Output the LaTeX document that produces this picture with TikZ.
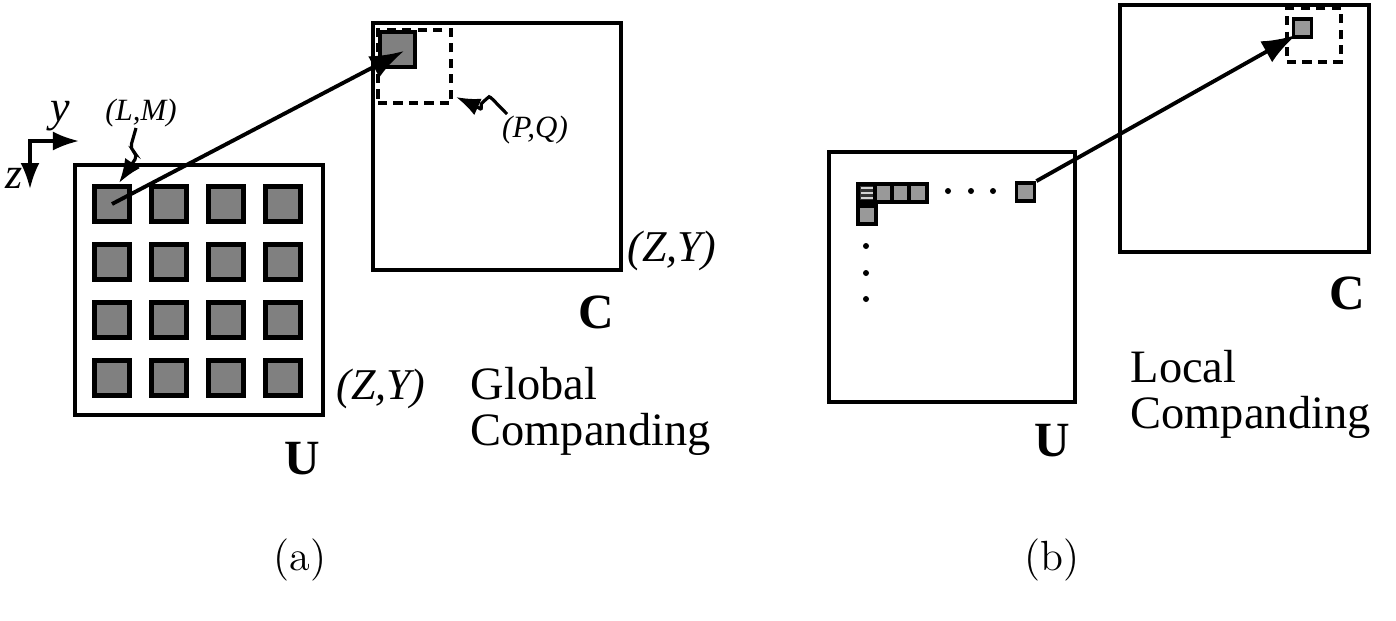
\documentclass[tikz,border=0pt]{standalone}
\usepackage{fontspec}
\newfontfamily\timesf{Liberation Serif}
\usetikzlibrary{arrows.meta}
\tikzset{
    frame/.style={rectangle, draw, line width=1pt, inner sep=0pt},
    cell/.style={rectangle, draw, line width=1.2pt, fill=black!50, minimum size=0.35cm, inner sep=0pt},
    tinycell/.style={rectangle, draw, line width=1.1pt, fill=black!40, minimum size=0.18cm, inner sep=0pt},
    window/.style={rectangle, draw, dash pattern=on 2.6pt off 1.8pt, line width=0.9pt, inner sep=0pt},
    link/.style={line width=1.1pt, -{Latex[length=3.4mm, width=2.4mm]}},
    squig/.style={line width=0.9pt, rounded corners=1.5pt, -{Latex[length=2.4mm, width=1.8mm]}},
    axis/.style={line width=0.9pt, {Latex[length=2.6mm, width=1.9mm]}-{Latex[length=2.6mm, width=1.9mm]}},
    dot/.style={circle, fill, inner sep=0pt, minimum size=0.06cm},
    stripe/.style={gray!35, line width=0.7pt},
    lbl/.style={font=\timesf\fontsize{13.2}{12.9}\selectfont, inner sep=0pt},
    ilbl/.style={font=\timesf\itshape\fontsize{12.5}{12.5}\selectfont, inner sep=0pt},
    slbl/.style={font=\timesf\itshape\fontsize{8.8}{8.8}\selectfont, inner sep=0pt},
    blbl/.style={font=\timesf\bfseries\fontsize{14}{14}\selectfont, inner sep=0pt},
    sublbl/.style={font=\fontsize{12}{12}\selectfont, inner sep=0pt},
}
\begin{document}
\begin{tikzpicture}[x=0.01cm, y=-0.01cm]
\useasboundingbox (0,0) rectangle (1396,620);

% ===== (a) global companding =====
% axes
\coordinate (ax-o) at (30,141);
\coordinate (ax-y) at (79,141);
\coordinate (ax-z) at (30,189);
\draw[axis] (ax-y) -- (ax-o) -- (ax-z);
\node[ilbl] (ylab) at (60,116) {y};
\node[ilbl] (zlab) at (14,178) {z};

% U with its blocks
\node[frame, minimum width=2.48cm, minimum height=2.50cm] (ua) at (199,290) {};
\foreach \r in {1,...,4}
  \foreach \c in {1,...,4}
    \node[cell] (ua-\r-\c) at ({112+57*(\c-1)}, {204+58*(\r-1)}) {};

% C with window
\node[frame, minimum width=2.48cm, minimum height=2.47cm] (ca) at (497,146.5) {};
\node[window, minimum size=0.73cm] (wa) at (414.5,66.5) {};
\node[cell] (ca-cell) at (397.5,49.5) {};
\coordinate (ca-tip) at (404,51);
\draw[link] (ua-1-1.center) -- (ca-tip);

% block and window labels
\node[slbl] (lm) at (141,113) {(L,M)};
\coordinate (lm-tail) at (136,128);
\coordinate (lm-head) at (119,183);
\draw[squig] (lm-tail) -- (130,149) -- (138,155) -- (lm-head);

\node[slbl] (pq) at (535,130) {(P,Q)};
\coordinate (pq-tail) at (507,114);
\coordinate (pq-head) at (456,97);
\draw[squig] (pq-tail) .. controls (497,104) and (490,96) .. (485,100)
  .. controls (481,104) and (482,110) .. (476,106) -- (pq-head);

\node[ilbl] (zy-ca) at (672,251) {(Z,Y)};
\node[ilbl] (zy-ua) at (381,389) {(Z,Y)};
\node[blbl] (c-a) at (596,312) {C};
\node[blbl] (u-a) at (302,459) {U};
\node[lbl, anchor=base west, align=left] (glob) at (470,445) {Global\\Companding};
\node[sublbl] (sub-a) at (300,560) {(a)};

% ===== (b) local companding =====
\node[frame, minimum width=2.46cm, minimum height=2.50cm] (ub) at (952,277) {};
\node[tinycell, fill=black!80] (ub-s1) at (867,193) {};
\foreach \dy in {-5,0,5}
  \draw[stripe] (861,{193+\dy}) -- (873,{193+\dy});
\node[tinycell] (ub-s2) at (884,193) {};
\node[tinycell] (ub-s3) at (901,193) {};
\node[tinycell] (ub-s4) at (918,193) {};
\node[tinycell] (ub-s5) at (867,215) {};
\foreach \x in {948,971,993}
  \node[dot] (hd-\x) at (\x,191) {};
\foreach \y in {246,273,299}
  \node[dot] (vd-\y) at (866,\y) {};
\node[tinycell] (ub-cell) at (1025.5,192) {};

\node[frame, minimum width=2.49cm, minimum height=2.47cm] (cb) at (1244.5,128.5) {};
\node[window, minimum size=0.54cm] (wb) at (1314,35) {};
\node[tinycell] (cb-cell) at (1302.5,28) {};
\coordinate (cb-tip) at (1296,35);
\draw[link] (ub-cell.north east) -- (cb-tip);

\node[blbl] (c-b) at (1347,293) {C};
\node[blbl] (u-b) at (1052,441) {U};
\node[lbl, anchor=base west, align=left] (loc) at (1130,428) {Local\\Companding};
\node[sublbl] (sub-b) at (1052,560) {(b)};

\end{tikzpicture}
\end{document}
